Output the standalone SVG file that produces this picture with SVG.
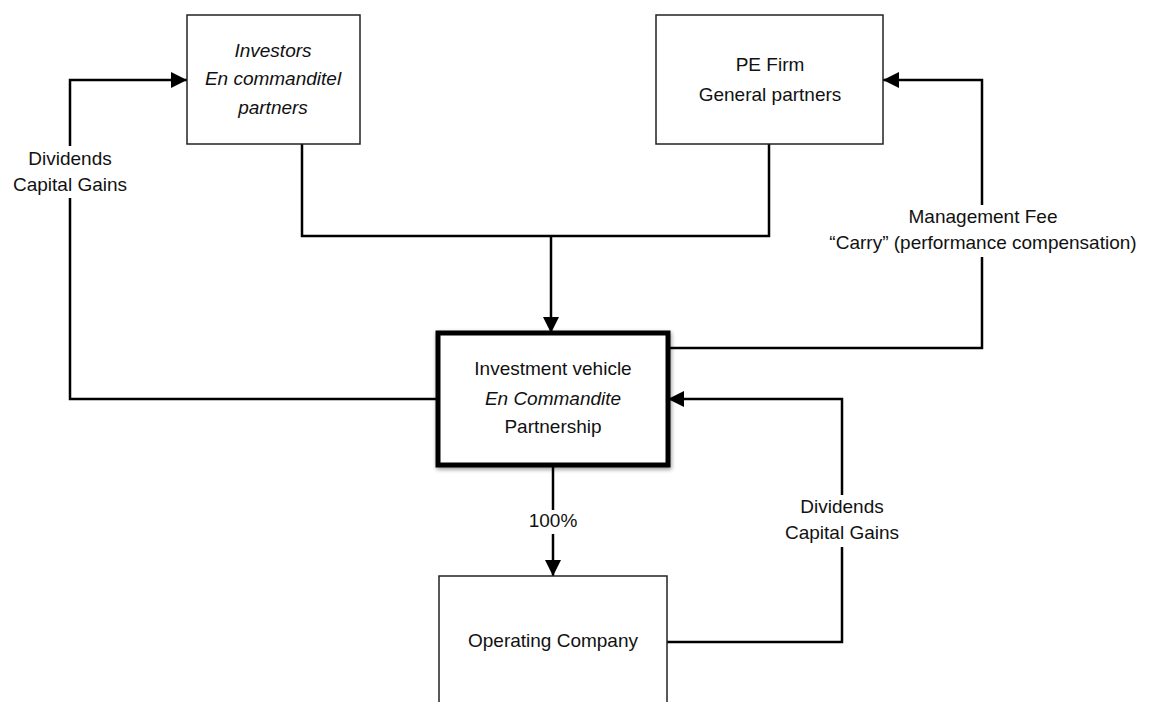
<svg xmlns="http://www.w3.org/2000/svg" width="1168" height="702" viewBox="0 0 1168 702">
<style>
text{font-family:"Liberation Sans",Arial,sans-serif;font-size:19px;fill:#111;text-anchor:middle;dominant-baseline:middle}
.it{font-style:italic}
.box{fill:#fff;stroke:#222;stroke-width:1.5}
.main{fill:#fff;stroke:#000;stroke-width:5}
.con{fill:none;stroke:#000;stroke-width:2.5}
.bg{fill:#fff;stroke:none}
</style>
<defs>
<marker id="a" viewBox="0 0 16 16" refX="16" refY="8" markerWidth="16" markerHeight="16" markerUnits="userSpaceOnUse" orient="auto">
<path d="M0,0 L16,8 L0,16 z" fill="#000"/>
</marker>
<filter id="sh" x="-10%" y="-10%" width="120%" height="120%">
<feGaussianBlur in="SourceAlpha" stdDeviation="2"/>
<feOffset dx="1" dy="2"/>
<feComponentTransfer><feFuncA type="linear" slope="0.4"/></feComponentTransfer>
<feMerge><feMergeNode/><feMergeNode in="SourceGraphic"/></feMerge>
</filter>
</defs>
<rect width="1168" height="702" fill="#fff"/>
<g id="connectors">
<path class="con" d="M302,144 V236 H769 V144"/>
<path class="con" d="M551,236 V333" marker-end="url(#a)"/>
<path class="con" d="M438,399 H70 V80 H187" marker-end="url(#a)"/>
<path class="con" d="M668,348 H982 V80 H883" marker-end="url(#a)"/>
<path class="con" d="M553,465 V576" marker-end="url(#a)"/>
<path class="con" d="M667,642 H842 V399 H668" marker-end="url(#a)"/>
<rect class="bg" x="0" y="146" width="140" height="52"/>
<text x="70" y="160">Dividends</text>
<text x="70" y="186">Capital Gains</text>
<rect class="bg" x="825" y="205" width="340" height="52"/>
<text x="983" y="218">Management Fee</text>
<text x="983" y="244">“Carry” (performance compensation)</text>
<rect class="bg" x="527" y="510" width="52" height="24"/>
<text x="553" y="522">100%</text>
<rect class="bg" x="772" y="495" width="140" height="52"/>
<text x="842" y="508">Dividends</text>
<text x="842" y="534">Capital Gains</text>
</g>
<g id="investors">
<rect class="box" x="187" y="15" width="173" height="129"/>
<text class="it" x="273" y="52">Investors</text>
<text class="it" x="273" y="80">En commanditel</text>
<text class="it" x="273" y="109">partners</text>
</g>
<g id="pe-firm">
<rect class="box" x="656" y="15" width="227" height="129"/>
<text x="770" y="66">PE Firm</text>
<text x="770" y="96">General partners</text>
</g>
<g id="investment-vehicle">
<rect class="main" x="438" y="333" width="230" height="132" filter="url(#sh)"/>
<text x="553" y="370">Investment vehicle</text>
<text class="it" x="553" y="400">En Commandite</text>
<text x="553" y="428">Partnership</text>
</g>
<g id="operating-company">
<rect class="box" x="439" y="576" width="228" height="140"/>
<text x="553" y="642">Operating Company</text>
</g>
</svg>
